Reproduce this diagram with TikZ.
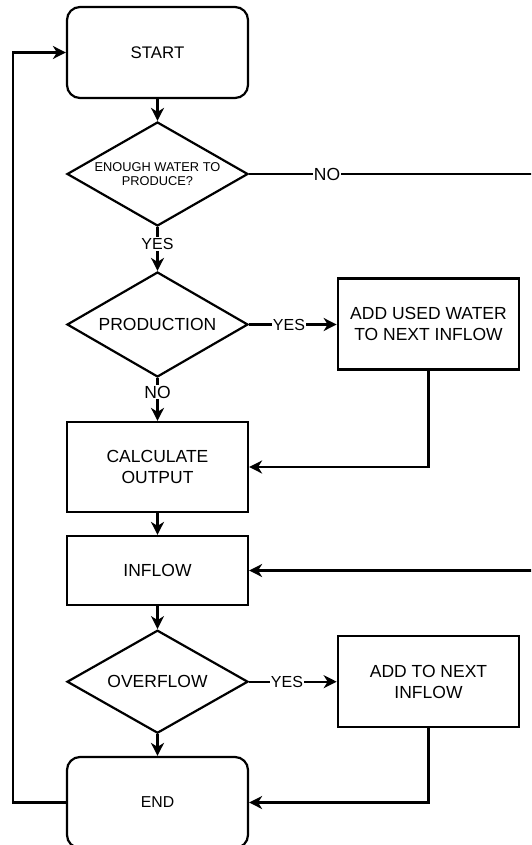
\documentclass[tikz,border=0pt]{standalone}
\usepackage{fontspec}
\setmainfont{Liberation Sans}
\usetikzlibrary{shapes.geometric,arrows.meta}
\tikzset{
  every picture/.style={x=1pt,y=-1pt},
  ln/.style={line width=2.2pt},
  arr/.style={ln,-{Stealth[length=13pt,width=13pt,inset=4pt]}},
  termbox/.style={draw,line width=2.2pt,rounded corners=13pt,minimum width=181pt,minimum height=91pt,inner sep=0pt,align=center,font=\fontsize{16.8}{20}\selectfont},
  procbox/.style={draw,line width=2.2pt,minimum width=181pt,inner sep=0pt,align=center,font=\fontsize{17.5}{21}\selectfont},
  decbox/.style={draw,line width=2.2pt,diamond,inner sep=0pt,minimum width=181pt,minimum height=104pt},
  dectext/.style={align=center,inner sep=0pt,font=\fontsize{17.5}{21}\selectfont},
  lbl/.style={fill=white,inner sep=1pt,font=\fontsize{16}{19}\selectfont},
}
\begin{document}
\begin{tikzpicture}
\useasboundingbox (0,0) rectangle (531,845);
\clip (0,0) rectangle (531,845);
% nodes
\node[termbox] (start) at (157.5,52.5) {START};
\node[decbox] (d1) at (157.5,174) {};
\node[dectext,font=\fontsize{12.8}{14.5}\selectfont] (t1) at (157.5,174) {ENOUGH WATER TO\\PRODUCE?};
\node[lbl] (yes1) at (157.5,244) {YES};
\node[decbox,minimum height=105pt] (d2) at (157.5,324.5) {};
\node[dectext] (t2) at (157.5,324.5) {PRODUCTION};
\node[lbl,font=\fontsize{17.5}{21}\selectfont] (no2) at (157.5,392) {NO};
\node[lbl] (yes2) at (289,324.5) {YES};
\node[procbox,minimum width=181.5pt,minimum height=91pt] (add1) at (428.5,324) {ADD USED WATER\\TO NEXT INFLOW};
\node[procbox,minimum height=90pt] (calc) at (157.5,467) {CALCULATE\\OUTPUT};
\node[procbox,minimum height=69pt] (inflow) at (157.5,570.5) {INFLOW};
\node[decbox,minimum height=103pt] (d3) at (157.5,681.7) {};
\node[dectext] (t3) at (157.5,681.7) {OVERFLOW};
\node[lbl] (yes3) at (287,681.7) {YES};
\node[procbox,minimum width=181.5pt,minimum height=91pt] (add2) at (428.5,681.7) {ADD TO NEXT\\INFLOW};
\node[termbox,font=\fontsize{15.8}{19}\selectfont] (end) at (157.5,802.5) {END};
\node[lbl,font=\fontsize{17.5}{21}\selectfont] (no1) at (327,174) {NO};
\coordinate (rt) at (535,174);
\coordinate (lp) at (13,802.5);
% connectors
\draw[arr] (start.south) -- (d1.north);
\draw[ln] (d1.south) -- (yes1);
\draw[arr] (yes1) -- (d2.north);
\draw[ln] (d1.east) -- (no1);
\draw[arr] (no1) -- (rt) |- (inflow.east);
\draw[ln] (d2.east) -- (yes2);
\draw[arr] (yes2) -- (add1.west |- yes2);
\draw[ln] (d2.south) -- (no2);
\draw[arr] (no2) -- (calc.north);
\draw[arr] (add1.south) |- (calc.east);
\draw[arr] (calc.south) -- (inflow.north);
\draw[arr] (inflow.south) -- (d3.north);
\draw[ln] (d3.east) -- (yes3);
\draw[arr] (yes3) -- (add2.west |- yes3);
\draw[arr] (d3.south) -- (end.north);
\draw[arr] (add2.south) |- (end.east);
\draw[arr] (end.west) -- (lp) |- (start.west);
\end{tikzpicture}
\end{document}
